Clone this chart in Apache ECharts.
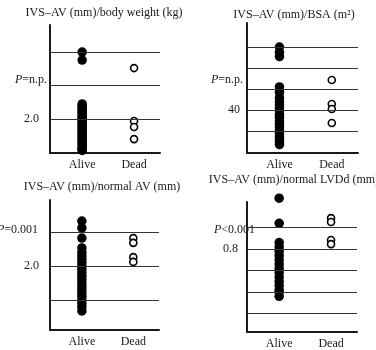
<!DOCTYPE html>
<html>
<head>
<meta charset="utf-8">
<script src="https://cdn.jsdelivr.net/npm/echarts@6/dist/echarts.min.js"></script>
<style>
html, body { margin: 0; padding: 0; background: #fff; }
#chart { width: 376px; height: 350px; }
</style>
</head>
<body>
<div id="chart"></div>
<script>
// 分类
var categories = ['Alive', 'Dead'];

// 1: IVS-AV / body weight
var bwAlive = [4.0, 3.76, 2.45, 2.4, 2.36, 2.3, 2.25, 2.2, 2.16, 2.1, 2.05, 2.0, 1.96, 1.9, 1.86, 1.8, 1.75, 1.7, 1.66, 1.6, 1.55, 1.5, 1.45, 1.4, 1.36, 1.3, 1.25, 1.2, 1.15, 1.1, 1.06];
var bwDead = [3.52, 1.94, 1.76, 1.40];
var bwGrid = [2, 3, 4];
var bwTicks = [2];

// 2: IVS-AV / BSA
var bsaAlive = [100, 95, 91, 62, 57, 52, 48, 45, 42, 39, 36, 33, 30, 27, 24, 21, 18, 15, 12, 10, 7];
var bsaDead = [68.6, 45.7, 41, 27.6];
var bsaGrid = [20, 40, 60, 80, 100];
var bsaTicks = [40];

// 3: IVS-AV / normal AV
var avAlive = [3.32, 3.12, 2.82, 2.53, 2.4, 2.3, 2.2, 2.1, 2.0, 1.9, 1.8, 1.7, 1.6, 1.5, 1.4, 1.3, 1.2, 1.1, 1.0, 0.9, 0.8, 0.68];
var avDead = [2.82, 2.68, 2.26, 2.12];
var avGrid = [1, 2, 3];
var avTicks = [2];

// 4: IVS-AV / normal LVDd
var lvAlive = [1.037, 0.92, 0.83, 0.81, 0.79, 0.77, 0.75, 0.73, 0.71, 0.69, 0.67, 0.65, 0.63, 0.61, 0.6, 0.58];
var lvDead = [0.944, 0.926, 0.842, 0.823];
var lvGrid = [0.5, 0.6, 0.7, 0.8, 0.9, 1.018];
var lvTicks = [0.8];

var titles = ['IVS\u2013AV (mm)/body weight (kg)', 'IVS\u2013AV (mm)/BSA (m\u00b2)', 'IVS\u2013AV (mm)/normal AV (mm)', 'IVS\u2013AV (mm)/normal LVDd (mm)'];
var pLabels = ['=n.p.', '=n.p.', '=0.001', '<0.001'];

var FONT = 'Liberation Serif, Times New Roman, serif';
var INK = '#1a1a1a';

var chartPanels = {
	/**
	 * 初始化
	 */
	init: function () {
		var panels = [
			{ alive: bwAlive, dead: bwDead, grid: bwGrid, ticks: bwTicks, min: 0.985, max: 4.806, margin: 11, fmt: 1 },
			{ alive: bsaAlive, dead: bsaDead, grid: bsaGrid, ticks: bsaTicks, min: -1, max: 123, margin: 7, fmt: 0 },
			{ alive: avAlive, dead: avDead, grid: avGrid, ticks: avTicks, min: 0.118, max: 3.94, margin: 11, fmt: 1 },
			{ alive: lvAlive, dead: lvDead, grid: lvGrid, ticks: lvTicks, min: 0.414, max: 1.019, margin: 9, fmt: 1 }
		];
		chartPanels.showChart(panels);
	},
	/**
	 * 显示图表
	 */
	showChart: function (panels) {
		var myChart = echarts.init(document.getElementById('chart'), null, { renderer: 'canvas' });
		var grids = [
			{ left: 50, top: 25, width: 110, height: 128 },
			{ left: 247, top: 23, width: 111, height: 130 },
			{ left: 50, top: 200, width: 109, height: 130 },
			{ left: 247, top: 202, width: 110, height: 130 }
		];
		var xAxes = [], yAxes = [], series = [];
		for (var i = 0; i < panels.length; i++) {
			var p = panels[i];
			grids[i].outerBoundsMode = 'none';
			xAxes.push({
				type: 'value', gridIndex: i, min: -0.62, max: 1.5,
				axisLine: { show: true, onZero: false, lineStyle: { color: INK, width: 2 } },
				axisTick: { show: false },
				splitLine: { show: false },
				axisLabel: {
					customValues: [0, 1], margin: 6,
					color: INK, fontFamily: FONT, fontSize: 12,
					formatter: function (v) { return categories[Math.round(v)]; }
				}
			});
			yAxes.push({
				type: 'value', gridIndex: i, min: p.min, max: p.max,
				axisLine: { show: true, onZero: false, lineStyle: { color: INK, width: 2 } },
				axisTick: { show: false },
				splitLine: { show: false },
				axisLabel: {
					customValues: p.ticks, margin: p.margin,
					color: INK, fontFamily: FONT, fontSize: 12,
					formatter: (function (d) { return function (v) { return v.toFixed(d); }; })(p.fmt)
				}
			});
			// 横线
			series.push({
				type: 'scatter', xAxisIndex: i, yAxisIndex: i, data: [], z: 1, clip: false,
				markLine: {
					silent: true, symbol: 'none', animation: false,
					label: { show: false },
					lineStyle: { color: '#333', width: 1, type: 'solid' },
					data: p.grid.map(function (v) { return { yAxis: v }; })
				}
			});
			series.push({
				type: 'scatter', xAxisIndex: i, yAxisIndex: i, z: 3, clip: false,
				symbolSize: 9.5,
				itemStyle: { color: '#000', opacity: 1 },
				data: p.alive.map(function (v) { return [0, v]; })
			});
			series.push({
				type: 'scatter', xAxisIndex: i, yAxisIndex: i, z: 3, clip: false,
				symbolSize: 7,
				itemStyle: { color: '#fff', borderColor: '#000', borderWidth: 1.6, opacity: 1 },
				data: p.dead.map(function (v) { return [1, v]; })
			});
		}

		var txt = function (x, y, text, align, rich) {
			return {
				type: 'text', x: x, y: y, silent: true,
				style: {
					text: text, fill: INK, font: '12px ' + FONT,
					align: align, verticalAlign: 'middle', rich: rich
				}
			};
		};
		var richP = {
			i: { fontStyle: 'italic', fontSize: 12, fontFamily: FONT, fill: INK, color: INK },
			n: { fontSize: 12, fontFamily: FONT, fill: INK, color: INK }
		};
		var graphic = [
			txt(104, 13, titles[0], 'center'),
			txt(294, 15, titles[1], 'center'),
			txt(102, 187, titles[2], 'center'),
			txt(294, 180, titles[3], 'center'),
			txt(47, 80, '{i|P}{n|' + pLabels[0] + '}', 'right', richP),
			txt(243, 80, '{i|P}{n|' + pLabels[1] + '}', 'right', richP),
			txt(38, 230, '{i|P}{n|' + pLabels[2] + '}', 'right', richP),
			txt(255, 230, '{i|P}{n|' + pLabels[3] + '}', 'right', richP)
		];

		var option = {
			animation: false,
			backgroundColor: '#fff',
			grid: grids,
			xAxis: xAxes,
			yAxis: yAxes,
			series: series,
			graphic: graphic
		};
		// 显示图表。
		myChart.setOption(option);
	}
};

chartPanels.init();
</script>
</body>
</html>
